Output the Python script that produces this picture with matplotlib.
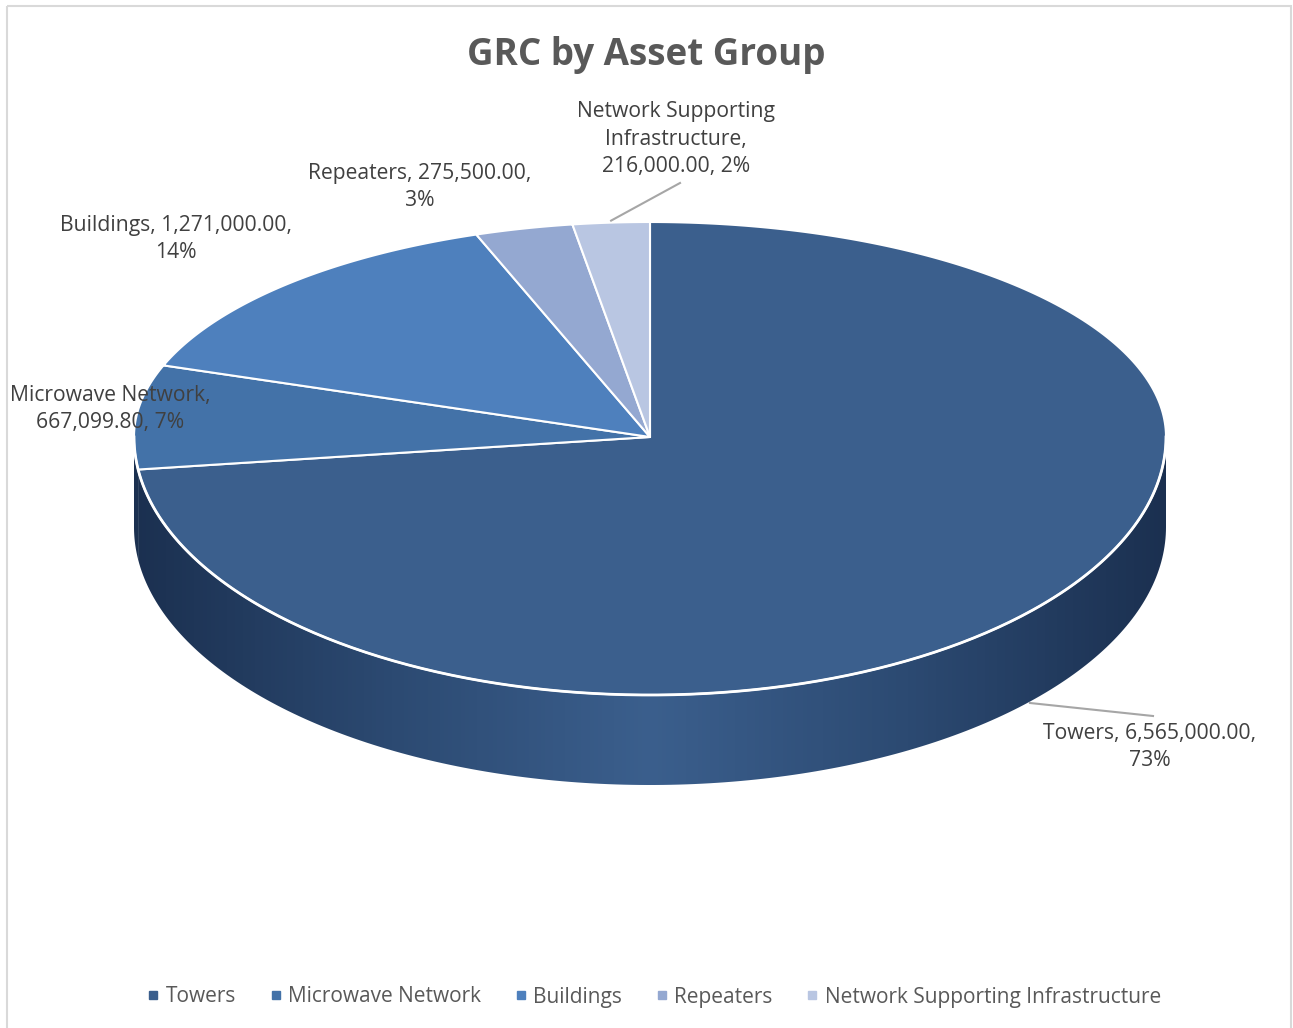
import numpy as np
import matplotlib.pyplot as plt
from matplotlib.patches import Polygon, Rectangle
from matplotlib.colors import LinearSegmentedColormap

# data
categories = ["Towers", "Microwave Network", "Buildings", "Repeaters",
              "Network Supporting Infrastructure"]
values = [6565000.00, 667099.80, 1271000.00, 275500.00, 216000.00]
label_texts = ["Towers, 6,565,000.00,\n73%",
               "Microwave Network,\n667,099.80, 7%",
               "Buildings, 1,271,000.00,\n14%",
               "Repeaters, 275,500.00,\n3%",
               "Network Supporting\nInfrastructure,\n216,000.00, 2%"]
colors = ["#3b5f8d", "#4372a8", "#4e80bd", "#94a8d1", "#b9c6e2"]

# layout of the fake-3d pie (pixels)
W, H = 1293, 1028
cx, cy = 650, 437
rx, ry_top, ry_bot = 516, 215, 258
depth = 90

plt.rcParams['font.family'] = ['Open Sans', 'DejaVu Sans']

fig = plt.figure(figsize=(W / 100, H / 100), dpi=100)
ax = fig.add_axes([0, 0, 1, 1])
ax.set_xlim(0, W)
ax.set_ylim(H, 0)
ax.axis("off")


def ell(t):
    # t in degrees, clockwise from top
    r = np.radians(t)
    c = np.cos(r)
    ry = np.where(c > 0, ry_top, ry_bot)
    return cx + rx * np.sin(r), cy - ry * c


total = sum(values)
bounds = np.concatenate([[0], np.cumsum(values) / total * 360])

# side wall with a horizontal gradient
side_cmap = LinearSegmentedColormap.from_list(
    "side", ["#1b3050", "#2c4a72", "#3b5f8d", "#2c4a72", "#1b3050"])
t_end = min(270, bounds[1])
ts = np.linspace(90, t_end, 200)
xt, yt = ell(ts)
side_pts = np.vstack([np.column_stack([xt, yt]),
                      np.column_stack([xt[::-1], yt[::-1] + depth])])
side_poly = Polygon(side_pts, closed=True, facecolor="none", edgecolor="none")
ax.add_patch(side_poly)
grad = np.linspace(0, 1, 256).reshape(1, -1)
im = ax.imshow(grad, cmap=side_cmap, extent=[cx - rx, cx + rx, cy + ry_bot + depth, cy - 10],
               aspect="auto", zorder=1)
im.set_clip_path(side_poly)
ax.set_xlim(0, W)
ax.set_ylim(H, 0)

# small microwave sliver on the far left
ts2 = np.linspace(bounds[1], 270, 20)
x2, y2 = ell(ts2)
sl = np.vstack([np.column_stack([x2, y2]), np.column_stack([x2[::-1], y2[::-1] + depth])])
ax.add_patch(Polygon(sl, closed=True, facecolor="#1b3050", edgecolor="none", zorder=1))

# front edge white line between top and side
xf, yf = ell(np.linspace(90, 270, 300))
ax.plot(xf, yf, color="white", lw=2, zorder=3)

# top slices
for i in range(len(values)):
    ts = np.linspace(bounds[i], bounds[i + 1], 300)
    x, y = ell(ts)
    pts = np.vstack([[cx, cy], np.column_stack([x, y])])
    ax.add_patch(Polygon(pts, closed=True, facecolor=colors[i], edgecolor="white",
                         lw=1.5, zorder=2))

# data labels
txt_kw = dict(fontsize=15.2, color="#404040", ha="center", va="center",
              linespacing=1.4, zorder=5)
ax.text(1150, 747, label_texts[0], **txt_kw)
ax.text(110, 409, label_texts[1], **txt_kw)
ax.text(176, 239, label_texts[2], **txt_kw)
ax.text(420, 187, label_texts[3], **txt_kw)
ax.text(676, 139, label_texts[4], **txt_kw)

# leader lines
ax.plot([1030, 1153], [703, 716], color="#a6a6a6", lw=1.5, zorder=4)
mid_nsi = (bounds[4] + bounds[5]) / 2
nx, ny = ell(np.array([mid_nsi]))
ax.plot([nx[0], 680], [ny[0] - 2, 183], color="#a6a6a6", lw=1.5, zorder=4)

# title
ax.text(W / 2, 55, "GRC by Asset Group", fontsize=26.5, fontweight="bold",
        color="#595959", ha="center", va="center")

# legend
handles = [plt.Line2D([], [], marker="s", ls="", color=c, markersize=6) for c in colors]
ax.legend(handles, categories, loc="center", bbox_to_anchor=(0.505, 1 - 997 / H),
          ncol=5, frameon=False, fontsize=15, handletextpad=0.2, columnspacing=1.5,
          labelcolor="#595959", handlelength=0.8)

# chart border
ax.add_patch(Rectangle((7, 6), 1284, 1030, facecolor="none", edgecolor="#d9d9d9",
                       lw=1.5, zorder=6))

fig.savefig("out.png", dpi=100)
